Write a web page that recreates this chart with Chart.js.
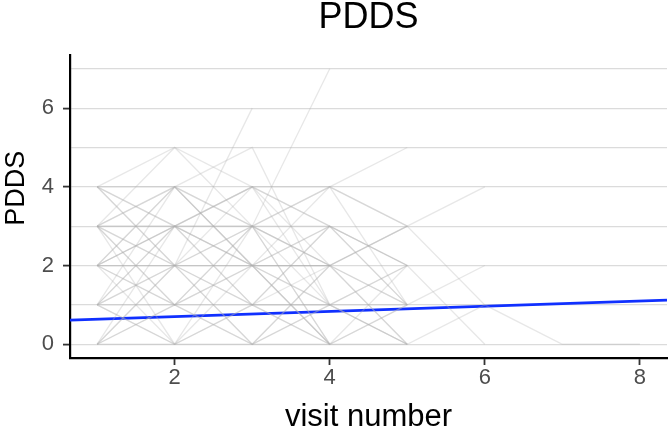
<!DOCTYPE html>
<html>
<head>
<meta charset="utf-8">
<script src="https://cdn.jsdelivr.net/npm/chart.js@4"></script>
<style>
  html, body { margin: 0; padding: 0; background: #fff; }
  #wrap { width: 669px; height: 433px; }
</style>
</head>
<body>
<div id="wrap"><canvas id="chart" width="669" height="433"></canvas></div>
<script>
// visit numbers (x) shared by all patients
const visits = [1, 2, 3, 4, 5, 6, 7, 8];

// PDDS score per patient, one value per visit (shorter = dropped out)
const patientScores = [
    [2, 3, 3, 2, 3, 1, 0, 0],
    [3, 4, 3, 4, 5],
    [1, 2, 4, 4, 3],
    [0, 1, 2, 1, 0, 1],
    [2, 1, 1, 0, 1, 2],
    [3, 2, 2, 3, 2, 0],
    [4, 3, 2, 4, 1],
    [1, 0, 1, 1, 2],
    [2, 4, 5, 1, 0],
    [0, 2, 6],
    [3, 3, 3, 7],
    [4, 5, 4, 3, 2],
    [4, 4, 2, 2, 3],
    [3, 1, 0, 2, 0],
    [2, 0, 1, 3, 2],
    [1, 3, 4, 2],
    [0, 0, 2, 0, 1],
    [3, 0, 0, 1, 0],
    [2, 2, 0, 1],
    [4, 2, 3, 1, 2],
    [1, 1, 3, 0],
    [3, 5, 3, 2, 1],
    [2, 3, 1, 0],
    [1, 4, 2, 1],
    [0, 3, 2, 2],
    [3, 2, 1, 3],
    [2, 1, 3, 4, 3],
    [4, 3, 4, 1, 1],
    [1, 2, 0, 2, 3, 4],
    [0, 1, 0, 0],
    [2, 3, 4, 3, 1],
    [3, 4, 2, 2],
    [1, 3, 2, 3, 1],
    [2, 2, 1, 2, 0],
    [3, 3, 1, 1],
    [0, 2, 3, 3],
    [4, 2, 2, 0, 0],
    [1, 0, 3, 2, 1],
    [2, 4, 3, 0],
    [3, 1, 2, 0, 2]
];

// fitted trend, read at the panel edges
const trendX = [0.65, 8.35];
const trendY = [0.61, 1.12];

const xTicks = [2, 4, 6, 8];
const yTicks = [0, 2, 4, 6];

const fontFamily = "'Liberation Sans', Arial, Helvetica, sans-serif";
const tickGrey = '#4d4d4d';

const patientSets = patientScores.map(scores => ({
    data: scores.map((v, i) => ({ x: visits[i], y: v })),
    borderColor: 'rgba(175,175,175,0.3)',
    borderWidth: 1.3,
    pointRadius: 0,
    tension: 0,
    fill: false
}));

const trendSet = {
    data: trendX.map((x, i) => ({ x: x, y: trendY[i] })),
    borderColor: '#1030ff',
    borderWidth: 2.8,
    pointRadius: 0,
    tension: 0,
    fill: false
};

// y axis title sits a bit above the panel centre in the original
const yTitlePlugin = {
    id: 'yTitle',
    afterDraw(chart) {
        const { ctx, chartArea } = chart;
        ctx.save();
        ctx.translate(17, chartArea.top + (chartArea.bottom - chartArea.top) * 0.44);
        ctx.rotate(-Math.PI / 2);
        ctx.font = `27px ${fontFamily}`;
        ctx.fillStyle = '#000';
        ctx.textAlign = 'center';
        ctx.textBaseline = 'middle';
        ctx.fillText('PDDS', 0, 0);
        ctx.restore();
    }
};

new Chart(document.getElementById('chart').getContext('2d'), {
    type: 'line',
    data: { datasets: [...patientSets, trendSet] },
    plugins: [yTitlePlugin],
    options: {
        responsive: false,
        animation: false,
        layout: { padding: { top: 0, right: 2, bottom: 0, left: 0 } },
        plugins: {
            legend: { display: false },
            tooltip: { enabled: false },
            title: {
                display: true,
                text: 'PDDS',
                fullSize: false,
                color: '#000',
                font: { family: fontFamily, size: 36, weight: 'normal', lineHeight: 1 },
                padding: { top: 0, bottom: 19 }
            }
        },
        scales: {
            x: {
                type: 'linear',
                min: 0.65,
                max: 8.35,
                afterFit: scale => { scale.height = 75; },
                afterBuildTicks: scale => { scale.ticks = xTicks.map(v => ({ value: v })); },
                grid: { drawOnChartArea: false, tickLength: 7, tickColor: '#333', tickWidth: 1.8 },
                border: { display: true, color: '#000', width: 2.2 },
                ticks: {
                    color: tickGrey,
                    padding: 0,
                    maxRotation: 0,
                    font: { family: fontFamily, size: 22 }
                },
                title: {
                    display: true,
                    text: 'visit number',
                    color: '#000',
                    font: { family: fontFamily, size: 31, lineHeight: 1 },
                    padding: { top: 0, bottom: 0 }
                }
            },
            y: {
                type: 'linear',
                min: -0.35,
                max: 7.35,
                afterFit: scale => { scale.width = 70; },
                grid: {
                    color: '#dbdbdb',
                    lineWidth: 1.2,
                    tickLength: 7,
                    tickWidth: 1.8,
                    tickColor: c => (c.tick && yTicks.includes(c.tick.value)) ? '#333' : 'rgba(0,0,0,0)'
                },
                border: { display: true, color: '#000', width: 2.2 },
                ticks: {
                    stepSize: 1,
                    includeBounds: false,
                    color: tickGrey,
                    padding: 9,
                    font: { family: fontFamily, size: 22 },
                    callback: v => yTicks.includes(v) ? String(v) : ''
                }
            }
        }
    }
});
</script>
</body>
</html>
